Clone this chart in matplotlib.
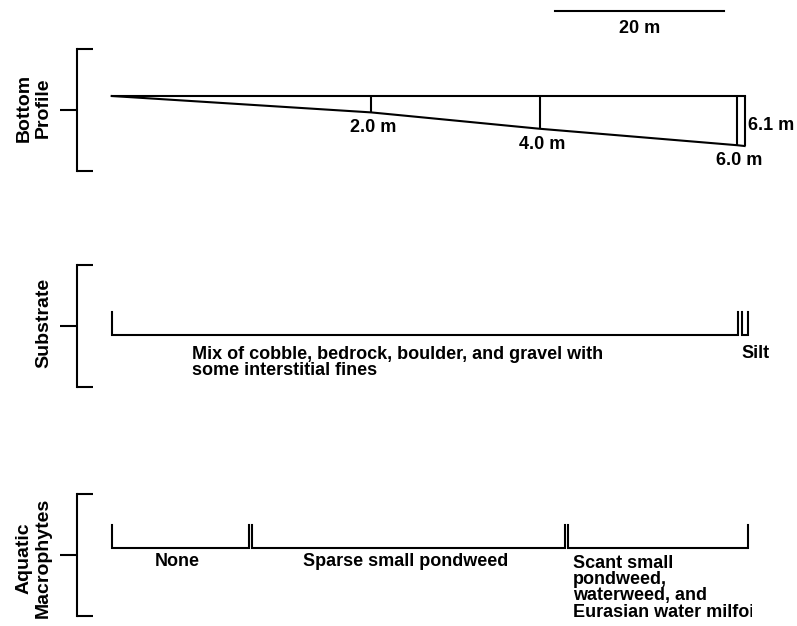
import matplotlib
matplotlib.use("Agg")
import matplotlib.pyplot as plt
from matplotlib.transforms import Bbox, TransformedBbox, blended_transform_factory

plt.rcParams['font.family'] = ['Liberation Sans', 'DejaVu Sans']
plt.rcParams['font.weight'] = 'bold'

# transect data, distances in metres from the shore end
profile_dist = [0.0, 30.7, 50.7, 74.0, 74.9]
profile_depth = [0.0, 2.0, 4.0, 6.0, 6.1]
depth_labels = ['2.0 m', '4.0 m', '6.0 m', '6.1 m']

substrate_start = [0.0, 74.6]
substrate_end = [74.1, 75.3]
substrate_names = ['Mix of cobble, bedrock, boulder, and gravel with\nsome interstitial fines',
                   'Silt']

plant_start = [0.0, 16.6, 54.0]
plant_end = [16.2, 53.6, 75.3]
plant_names = ['None', 'Sparse small pondweed',
               'Scant small\npondweed,\nwaterweed, and\nEurasian water milfoil']

scale_start = 52.5
scale_len = 20
panel_titles = ['Bottom\nProfile', 'Substrate', 'Aquatic\nMacrophytes']

# page layout in pixels
W, H = 797, 626
x_left, x_right = 77, 752
px_per_m = 8.45
x0_px = 111.7
panels_px = [(49, 171), (265, 387), (494, 616)]
lw = 1.5
fs = 13
ls = 0.95


def fy(y):
    return 1 - y / H


fig = plt.figure(figsize=(W / 100, H / 100), dpi=100)

xlim = ((x_left - x0_px) / px_per_m, (x_right - x0_px) / px_per_m)
axes = []
for top, bot in panels_px:
    ax = fig.add_axes([x_left / W, fy(bot), (x_right - x_left) / W, (bot - top) / H])
    ax.set_xlim(xlim)
    for s in ['top', 'right', 'bottom']:
        ax.spines[s].set_visible(False)
    ax.spines['left'].set_linewidth(lw)
    ax.set_xticks([])
    axes.append(ax)


def bracket_axis(ax, lo, hi):
    ax.set_ylim(lo, hi)
    ax.set_yticks([(lo + hi) / 2])
    ax.set_yticks([lo, hi], minor=True)
    ax.tick_params(axis='y', which='major', direction='out', length=12.5, width=lw,
                   labelleft=False)
    ax.tick_params(axis='y', which='minor', direction='in', length=11.5, width=lw)


# bottom profile, depth scale 8.2 px per metre with the surface at y=96 px
ax1 = axes[0]
d_scale = 8.2
surf = 96
top, bot = panels_px[0]
bracket_axis(ax1, (bot - surf) / d_scale, (top - surf) / d_scale)
ax1.plot([profile_dist[0], profile_dist[-1]], [0, 0], color='black', lw=lw, clip_on=False)
ax1.plot(profile_dist, profile_depth, color='black', lw=lw, clip_on=False)
ax1.vlines(profile_dist[1:], 0, profile_depth[1:], color='black', lw=lw, clip_on=False)
for x, d, lab in zip(profile_dist[1:4], profile_depth[1:4], depth_labels[:3]):
    ax1.annotate(lab, (x, d), xytext=(1.5, -5), textcoords='offset points',
                 ha='center', va='top', fontsize=fs)
ax1.annotate(depth_labels[3], (profile_dist[4], profile_depth[4] / 2), xytext=(2.5, -3),
             textcoords='offset points', ha='left', va='center', fontsize=fs)

# scale bar above the profile
trans = blended_transform_factory(ax1.transData, fig.transFigure)
ax1.plot([scale_start, scale_start + scale_len], [fy(11), fy(11)], color='black', lw=lw,
         transform=trans, clip_on=False)
ax1.text(scale_start + scale_len / 2, fy(20), f'{scale_len} m', transform=trans,
         ha='center', va='top', fontsize=fs)


def draw_segments(ax, starts, ends, base, tip):
    for s, e in zip(starts, ends):
        ax.plot([s, s, e, e], [tip, base, base, tip], color='black', lw=lw,
                solid_joinstyle='miter', clip_on=False)


# substrate
ax2 = axes[1]
top, bot = panels_px[1]
bracket_axis(ax2, 0, 1)
base2 = (bot - 335) / (bot - top)
tip2 = (bot - 312) / (bot - top)
draw_segments(ax2, substrate_start, substrate_end, base2, tip2)
off = 11 / (bot - top)
ax2.text(9.5, base2 - off, substrate_names[0], ha='left', va='top', fontsize=fs,
         linespacing=ls)
ax2.text(76.25, base2 - 10 / (bot - top), substrate_names[1], ha='center', va='top',
         fontsize=fs)

# aquatic macrophytes
ax3 = axes[2]
top, bot = panels_px[2]
bracket_axis(ax3, 0, 1)
base3 = (bot - 547.7) / (bot - top)
tip3 = (bot - 525) / (bot - top)
draw_segments(ax3, plant_start, plant_end, base3, tip3)
off = 5.5 / (bot - top)
for s, e, lab in zip(plant_start[:2], plant_end[:2], plant_names[:2]):
    ax3.text((s + e) / 2 - 0.3, base3 - off, lab, ha='center', va='top', fontsize=fs)
t = ax3.text(plant_start[2] + 0.6, base3 - 7 / (bot - top), plant_names[2], ha='left',
             va='top', fontsize=fs, linespacing=ls, clip_on=True)
t.set_clip_path(None)
t.set_clip_box(TransformedBbox(Bbox.from_extents(0, -1, 1, 2), ax3.transAxes))

# panel titles
for (top, bot), title, dy in zip(panels_px, panel_titles, [-2, -3, 3]):
    fig.text(52 / W, fy((top + bot) / 2 + dy), title, rotation=90, ha='right',
             va='center', multialignment='center', fontsize=14)

fig.savefig('out.png', dpi=100)
